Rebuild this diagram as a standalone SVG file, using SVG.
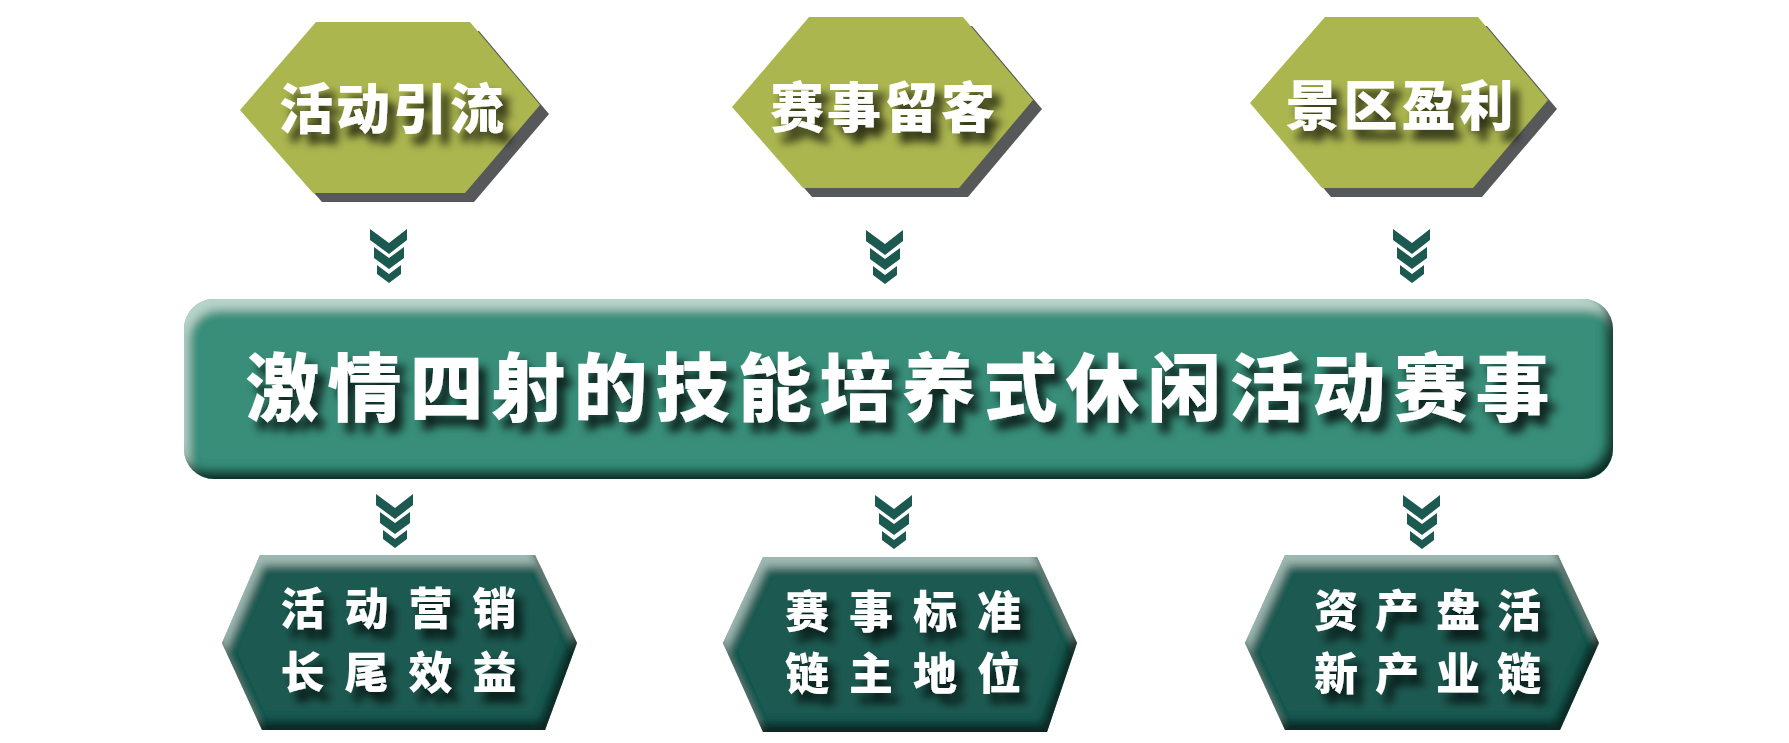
<svg xmlns="http://www.w3.org/2000/svg" xmlns:xlink="http://www.w3.org/1999/xlink" width="1789" height="743" viewBox="0 0 1789 743">
<style>
.t{font-family:"Noto Sans CJK SC","Noto Sans CJK TC",sans-serif;font-weight:900;fill:#ffffff;text-anchor:middle;}
.top{fill:#abb64f;}
.topsh{fill:#57585a;}
.bot{fill:#1c5a51;}
.chev{fill:#1c5a51;}
</style>
<defs>
<filter id="ts" x="-10%" y="-30%" width="130%" height="180%">
<feGaussianBlur in="SourceAlpha" stdDeviation="4" result="b"/>
<feOffset in="b" dx="8" dy="10" result="o"/>
<feFlood flood-color="#000000" flood-opacity="0.75"/>
<feComposite in2="o" operator="in" result="s"/>
<feMerge><feMergeNode in="s"/><feMergeNode in="SourceGraphic"/></feMerge>
</filter>
<filter id="bevel" x="-5%" y="-10%" width="110%" height="120%">
<feGaussianBlur in="SourceAlpha" stdDeviation="5" result="b"/>
<feOffset in="b" dx="5" dy="11" result="o1"/>
<feComposite in="SourceAlpha" in2="o1" operator="out" result="hi"/>
<feFlood flood-color="#cfe6de" flood-opacity="0.75"/>
<feComposite in2="hi" operator="in" result="hiC"/>
<feOffset in="b" dx="-7" dy="-9" result="o2"/>
<feComposite in="SourceAlpha" in2="o2" operator="out" result="sh"/>
<feFlood flood-color="#0b2520" flood-opacity="0.95"/>
<feComposite in2="sh" operator="in" result="shC"/>
<feMerge><feMergeNode in="SourceGraphic"/><feMergeNode in="hiC"/><feMergeNode in="shC"/></feMerge>
</filter>
<filter id="bevel2" x="-5%" y="-10%" width="110%" height="120%">
<feGaussianBlur in="SourceAlpha" stdDeviation="4" result="b"/>
<feOffset in="b" dx="3" dy="10" result="o1"/>
<feComposite in="SourceAlpha" in2="o1" operator="out" result="hi"/>
<feFlood flood-color="#b9d3cc" flood-opacity="0.7"/>
<feComposite in2="hi" operator="in" result="hiC"/>
<feOffset in="b" dx="-5" dy="-9" result="o2"/>
<feComposite in="SourceAlpha" in2="o2" operator="out" result="sh"/>
<feFlood flood-color="#0a221e" flood-opacity="0.95"/>
<feComposite in2="sh" operator="in" result="shC"/>
<feMerge><feMergeNode in="SourceGraphic"/><feMergeNode in="hiC"/><feMergeNode in="shC"/></feMerge>
</filter>
<g id="chevron">
<polygon points="-19,0 0,14 18,0 18,11 0,25 -19,11"/>
<polygon points="-15,18 0,29 15,18 15,29 0,40 -15,29"/>
<polygon points="-12,36 0,45 12,36 12,45 0,54 -12,45"/>
</g>
</defs>
<rect width="1789" height="743" fill="#ffffff"/>

<g id="connectors" class="chev">
<use xlink:href="#chevron" x="389" y="229"/>
<use xlink:href="#chevron" x="885" y="230"/>
<use xlink:href="#chevron" x="1412" y="229"/>
<use xlink:href="#chevron" x="395" y="494"/>
<use xlink:href="#chevron" x="894" y="495"/>
<use xlink:href="#chevron" x="1422" y="495"/>
</g>

<g id="top1">
<polygon class="topsh" points="325,31 479,31 549,114 474,202 322,202 249,119"/>
<polygon class="top" points="316,22 470,22 540,105 465,193 313,193 240,110"/>
<text class="t" x="393" y="129" font-size="54" letter-spacing="3" filter="url(#ts)">活动引流</text>
</g>
<g id="top2">
<polygon class="topsh" points="818,26 972,26 1042,109 968,197 812,197 741,116"/>
<polygon class="top" points="809,17 963,17 1033,100 959,188 803,188 732,107"/>
<text class="t" x="884" y="128" font-size="54" letter-spacing="3" filter="url(#ts)">赛事留客</text>
</g>
<g id="top3">
<polygon class="topsh" points="1334,26 1487,26 1557,109 1482,197 1331,197 1259,112"/>
<polygon class="top" points="1325,17 1478,17 1548,100 1473,188 1322,188 1250,103"/>
<text class="t" x="1401.5" y="126" font-size="54" letter-spacing="4" filter="url(#ts)">景区盈利</text>
</g>

<g id="main">
<rect x="184" y="299" width="1429" height="180" rx="30" ry="30" fill="#388e79" filter="url(#bevel)"/>
<text class="t" x="901.5" y="415" font-size="74" letter-spacing="8" filter="url(#ts)">激情四射的技能培养式休闲活动赛事</text>
</g>

<g id="bot1">
<polygon class="bot" points="260,555 535,555 577,643 545,730 262,730 222,643" filter="url(#bevel2)"/>
<text class="t" font-size="44" letter-spacing="20" filter="url(#ts)"><tspan x="408.5" y="625">活动营销</tspan><tspan x="408.5" y="689">长尾效益</tspan></text>
</g>
<g id="bot2">
<polygon class="bot" points="763,557 1037,557 1077,643 1047,732 763,732 723,643" filter="url(#bevel2)"/>
<text class="t" font-size="44" letter-spacing="20" filter="url(#ts)"><tspan x="913" y="628">赛事标准</tspan><tspan x="913" y="690">链主地位</tspan></text>
</g>
<g id="bot3">
<polygon class="bot" points="1285,555 1558,555 1599,643 1560,730 1285,730 1245,643" filter="url(#bevel2)"/>
<text class="t" font-size="44" letter-spacing="17" filter="url(#ts)"><tspan x="1436" y="627">资产盘活</tspan><tspan x="1436" y="690">新产业链</tspan></text>
</g>
</svg>
